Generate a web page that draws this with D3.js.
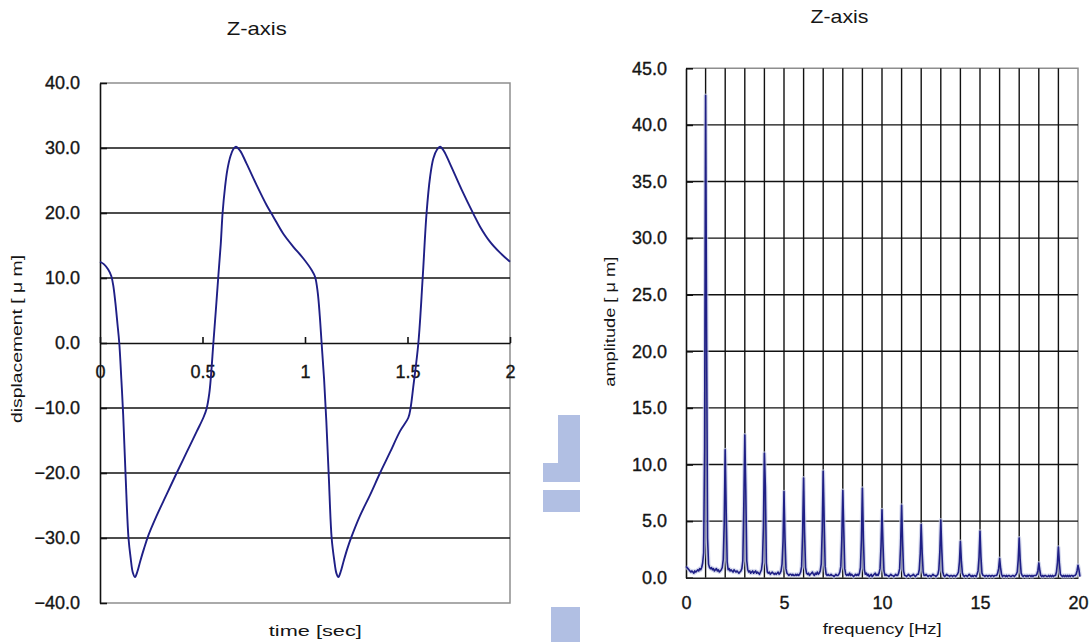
<!DOCTYPE html>
<html>
<head>
<meta charset="utf-8">
<script src="https://cdn.jsdelivr.net/npm/d3@7"></script>
<style>
  body { margin: 0; background: #fff; }
  svg { display: block; }
  text { font-family: "Liberation Sans", Arial, sans-serif; fill: #151515; }
  .tick text { stroke: #151515; stroke-width: 0.35px; }
</style>
</head>
<body>
<svg id="chart" width="1091" height="642"></svg>
<script>
// ---- Z-axis displacement waveform (two revolutions) ----
const timeSec = [
  0.000, 0.020, 0.040, 0.055, 0.065, 0.075, 0.085, 0.094, 0.104, 0.113,
  0.125, 0.139, 0.150, 0.160, 0.171, 0.182, 0.197, 0.215, 0.236, 0.276,
  0.325, 0.374, 0.423, 0.472, 0.504, 0.520, 0.533, 0.541, 0.553, 0.565,
  0.577, 0.589, 0.598, 0.610, 0.621, 0.637, 0.650, 0.663, 0.683, 0.715,
  0.764, 0.813, 0.846, 0.894, 0.943, 0.992, 1.033, 1.049, 1.062, 1.072,
  1.081, 1.093, 1.104, 1.116, 1.130, 1.143, 1.153, 1.163, 1.174, 1.189,
  1.207, 1.227, 1.268, 1.317, 1.366, 1.415, 1.463, 1.504, 1.515, 1.528,
  1.553, 1.574, 1.593, 1.610, 1.626, 1.645, 1.659, 1.678, 1.707, 1.764,
  1.821, 1.854, 1.902, 1.951, 2.000
];
const displacementUm = [
  12.5, 12.1, 11.3, 10.3, 8.8, 6.2, 3.0, 0.0, -5.5, -11.0,
  -20.5, -30.0, -33.2, -35.3, -36.0, -35.2, -33.5, -31.6, -29.6, -26.6,
  -23.3, -20.0, -16.8, -13.6, -11.5, -10.1, -7.8, -5.2, 0.0, 5.0,
  10.2, 15.2, 20.0, 24.0, 26.6, 28.8, 29.8, 30.2, 29.6, 27.6,
  24.3, 21.2, 19.4, 16.8, 14.8, 13.0, 11.2, 10.2, 7.8, 4.2,
  0.0, -5.5, -12.0, -20.5, -30.0, -33.5, -35.4, -36.0, -35.2, -33.5,
  -31.6, -29.8, -26.6, -23.4, -20.0, -16.8, -13.6, -11.5, -10.0, -6.8,
  0.0, 10.0, 20.0, 25.5, 28.4, 29.8, 30.2, 29.5, 27.6, 23.6,
  19.9, 17.9, 15.6, 13.9, 12.5
];
const displacementTicks = [-40, -30, -20, -10, 0, 10, 20, 30, 40];
const timeTicks = [0, 0.5, 1, 1.5, 2];

// ---- Z-axis amplitude spectrum, 0.05 Hz bins from 0 Hz ----
const freqStepHz = 0.05;
const amplitudeUm = [
  1.0, 0.9, 0.8, 0.7, 0.6, 0.5, 0.6, 0.5, 0.4, 0.6, 0.5, 0.6, 0.7, 0.6, 0.8, 0.7, 0.9, 1.3, 2.2, 11.5,
  42.6, 22.0, 3.5, 1.2, 0.9, 0.8, 0.9, 0.7, 0.8, 0.6, 0.7, 0.8, 0.6, 0.7, 0.5, 0.6, 0.7, 0.9, 1.6, 4.8,
  11.3, 6.0, 1.4, 0.7, 0.8, 0.6, 0.7, 0.6, 0.5, 0.7, 0.6, 0.5, 0.6, 0.5, 0.4, 0.5, 0.6, 0.8, 1.5, 6.5,
  12.6, 7.8, 1.5, 0.7, 0.5, 0.6, 0.4, 0.5, 0.6, 0.4, 0.5, 0.6, 0.4, 0.5, 0.4, 0.3, 0.5, 0.7, 1.4, 4.5,
  11.0, 8.0, 1.3, 0.5, 0.4, 0.5, 0.3, 0.4, 0.5, 0.4, 0.3, 0.4, 0.3, 0.4, 0.5, 0.3, 0.4, 0.6, 1.2, 3.2,
  7.6, 3.5, 0.8, 0.4, 0.3, 0.2, 0.3, 0.3, 0.2, 0.3, 0.2, 0.2, 0.3, 0.2, 0.3, 0.2, 0.3, 0.5, 1.0, 4.0,
  8.8, 4.0, 0.9, 0.4, 0.3, 0.4, 0.2, 0.3, 0.4, 0.5, 0.3, 0.2, 0.4, 0.3, 0.5, 0.3, 0.4, 0.6, 1.2, 4.2,
  9.4, 5.0, 1.0, 0.3, 0.2, 0.3, 0.2, 0.2, 0.3, 0.2, 0.2, 0.1, 0.2, 0.3, 0.2, 0.2, 0.3, 0.5, 1.0, 3.5,
  7.7, 4.2, 0.8, 0.3, 0.2, 0.3, 0.2, 0.4, 0.2, 0.3, 0.2, 0.1, 0.2, 0.3, 0.2, 0.3, 0.2, 0.4, 0.9, 3.4,
  7.9, 3.5, 0.7, 0.3, 0.4, 0.2, 0.3, 0.1, 0.2, 0.3, 0.1, 0.2, 0.3, 0.4, 0.2, 0.3, 0.2, 0.4, 0.8, 2.8,
  6.0, 3.0, 0.6, 0.2, 0.3, 0.2, 0.2, 0.1, 0.2, 0.3, 0.2, 0.2, 0.1, 0.2, 0.3, 0.2, 0.2, 0.4, 0.8, 2.9,
  6.4, 3.2, 0.6, 0.2, 0.2, 0.1, 0.2, 0.3, 0.2, 0.1, 0.2, 0.2, 0.3, 0.2, 0.1, 0.2, 0.3, 0.3, 0.7, 2.1,
  4.7, 2.2, 0.5, 0.2, 0.2, 0.3, 0.2, 0.1, 0.2, 0.2, 0.1, 0.2, 0.3, 0.2, 0.2, 0.1, 0.2, 0.3, 0.7, 2.3,
  5.1, 2.5, 0.5, 0.2, 0.1, 0.2, 0.3, 0.2, 0.2, 0.1, 0.2, 0.2, 0.1, 0.2, 0.2, 0.1, 0.2, 0.3, 0.5, 1.4,
  3.2, 1.5, 0.4, 0.2, 0.1, 0.2, 0.2, 0.1, 0.2, 0.3, 0.2, 0.1, 0.2, 0.1, 0.2, 0.2, 0.1, 0.3, 0.6, 1.8,
  4.1, 1.8, 0.4, 0.2, 0.2, 0.1, 0.2, 0.2, 0.1, 0.2, 0.2, 0.1, 0.2, 0.2, 0.1, 0.2, 0.2, 0.2, 0.4, 0.8,
  1.7, 0.9, 0.3, 0.1, 0.2, 0.2, 0.1, 0.2, 0.1, 0.2, 0.2, 0.1, 0.1, 0.2, 0.2, 0.1, 0.2, 0.3, 0.5, 1.6,
  3.5, 1.6, 0.4, 0.2, 0.1, 0.2, 0.2, 0.1, 0.2, 0.1, 0.2, 0.2, 0.1, 0.2, 0.1, 0.2, 0.2, 0.2, 0.3, 0.6,
  1.3, 0.7, 0.2, 0.1, 0.2, 0.1, 0.2, 0.2, 0.1, 0.1, 0.2, 0.1, 0.2, 0.1, 0.2, 0.1, 0.2, 0.2, 0.5, 1.3,
  2.7, 1.3, 0.3, 0.2, 0.1, 0.2, 0.1, 0.2, 0.1, 0.2, 0.1, 0.2, 0.1, 0.2, 0.2, 0.1, 0.2, 0.2, 0.3, 0.6,
  1.1, 0.7, 0.1
];
const amplitudeTicks = [0, 5, 10, 15, 20, 25, 30, 35, 40, 45];
const freqTicks = [0, 5, 10, 15, 20];
const freqGridHz = d3.range(1, 20);

const LINE_COLOR = "#1f1f86";
const HALO_COLOR = "#c3c9e6";
const GRID_COLOR = "#111";
const FRAME_COLOR = "#8e8e8e";

const svg = d3.select("#chart");
const fmt1 = d3.format(".1f");

// light-blue fragments of the printed page background
const bg = svg.append("g").attr("fill", "#adbce2").attr("opacity", 0.95);
bg.append("rect").attr("x", 558).attr("y", 415).attr("width", 22).attr("height", 48);
bg.append("rect").attr("x", 543).attr("y", 463).attr("width", 37).attr("height", 19);
bg.append("rect").attr("x", 543).attr("y", 490).attr("width", 37).attr("height", 22);
bg.append("rect").attr("x", 551).attr("y", 607).attr("width", 29).attr("height", 35);

function styleAxis(sel, strokeColor) {
  sel.selectAll("path,line").attr("stroke", strokeColor).attr("stroke-width", 1.6);
  sel.selectAll("text").attr("font-size", 18).attr("font-family", null).attr("fill", "#151515");
}

// ================= left: displacement vs time =================
{
  const x = d3.scaleLinear([0, 2], [100, 510]);
  const y = d3.scaleLinear([-40, 40], [603, 83]);
  const g = svg.append("g");

  // frame (top, right, bottom)
  g.append("path")
    .attr("d", `M${x(0)},${y(40)}H${x(2)}V${y(-40)}H${x(0)}`)
    .attr("fill", "none").attr("stroke", FRAME_COLOR).attr("stroke-width", 1.5);

  // horizontal gridlines
  g.append("g").selectAll("line")
    .data(displacementTicks.filter(d => d !== 0 && Math.abs(d) !== 40))
    .join("line")
    .attr("x1", x(0)).attr("x2", x(2))
    .attr("y1", d => y(d)).attr("y2", d => y(d))
    .attr("stroke", GRID_COLOR).attr("stroke-width", 1.4);

  // y axis
  const yAxis = g.append("g").attr("transform", `translate(${x(0)},0)`)
    .call(d3.axisLeft(y).tickValues(displacementTicks).tickFormat(fmt1)
      .tickSize(-7).tickSizeOuter(0).tickPadding(20));
  styleAxis(yAxis, GRID_COLOR);

  // x axis drawn along zero
  const xAxis = g.append("g").attr("transform", `translate(0,${y(0)})`)
    .call(d3.axisBottom(x).tickValues(timeTicks).tickFormat(d3.format("~g"))
      .tickSize(-6).tickSizeOuter(0).tickPadding(22));
  styleAxis(xAxis, GRID_COLOR);

  // waveform
  const line = d3.line().x((d, i) => x(timeSec[i])).y(d => y(d))
    .curve(d3.curveCatmullRom.alpha(0.5));
  g.append("path").datum(displacementUm)
    .attr("d", line)
    .attr("fill", "none").attr("stroke", LINE_COLOR).attr("stroke-width", 1.9)
    .attr("stroke-linejoin", "round");

  // titles
  g.append("text").attr("x", 256.7).attr("y", 35).attr("text-anchor", "middle")
    .attr("font-size", 19).attr("textLength", 60).attr("lengthAdjust", "spacingAndGlyphs")
    .text("Z-axis");
  g.append("text").attr("transform", "translate(21.5,339) rotate(-90)")
    .attr("text-anchor", "middle").attr("font-size", 15)
    .attr("textLength", 168).attr("lengthAdjust", "spacingAndGlyphs")
    .text("displacement [ μ m]");
  g.append("text").attr("x", 315.3).attr("y", 636).attr("text-anchor", "middle")
    .attr("font-size", 15).attr("textLength", 93).attr("lengthAdjust", "spacingAndGlyphs")
    .text("time [sec]");
}

// ================= right: amplitude spectrum =================
{
  const x = d3.scaleLinear([0, 20], [686, 1078]);
  const y = d3.scaleLinear([0, 45], [577.7, 68.3]);
  const g = svg.append("g");

  // frame (top, right)
  g.append("path")
    .attr("d", `M${x(0)},${y(45)}H${x(20)}V${y(0)}`)
    .attr("fill", "none").attr("stroke", FRAME_COLOR).attr("stroke-width", 1.5);

  // vertical gridlines every 1 Hz
  g.append("g").selectAll("line").data(freqGridHz).join("line")
    .attr("x1", d => x(d)).attr("x2", d => x(d))
    .attr("y1", y(45)).attr("y2", y(0))
    .attr("stroke", GRID_COLOR).attr("stroke-width", 1.4);

  // horizontal gridlines
  g.append("g").selectAll("line")
    .data(amplitudeTicks.filter(d => d > 0 && d < 45)).join("line")
    .attr("x1", x(0)).attr("x2", x(20))
    .attr("y1", d => y(d)).attr("y2", d => y(d))
    .attr("stroke", GRID_COLOR).attr("stroke-width", 1.4);

  const yAxis = g.append("g").attr("transform", `translate(${x(0)},0)`)
    .call(d3.axisLeft(y).tickValues(amplitudeTicks).tickFormat(fmt1)
      .tickSize(-7).tickSizeOuter(0).tickPadding(19));
  styleAxis(yAxis, GRID_COLOR);

  const xAxis = g.append("g").attr("transform", `translate(0,${y(0)})`)
    .call(d3.axisBottom(x).tickValues(freqTicks).tickFormat(d3.format("d"))
      .tickSize(0).tickSizeOuter(0).tickPadding(19));
  styleAxis(xAxis, "#222");

  // spectrum, with the soft halo seen round the spikes
  const line = d3.line().x((d, i) => x(i * freqStepHz)).y(d => y(d));
  g.append("path").datum(amplitudeUm)
    .attr("d", line)
    .attr("fill", "none").attr("stroke", HALO_COLOR).attr("stroke-width", 4)
    .attr("stroke-linejoin", "round").attr("opacity", 0.7);
  g.append("path").datum(amplitudeUm)
    .attr("d", line)
    .attr("fill", "none").attr("stroke", LINE_COLOR).attr("stroke-width", 1.6)
    .attr("stroke-linejoin", "round");

  g.append("text").attr("x", 839.5).attr("y", 23.3).attr("text-anchor", "middle")
    .attr("font-size", 19).attr("textLength", 58).attr("lengthAdjust", "spacingAndGlyphs")
    .text("Z-axis");
  g.append("text").attr("transform", "translate(614.5,321.7) rotate(-90)")
    .attr("text-anchor", "middle").attr("font-size", 15)
    .attr("textLength", 130).attr("lengthAdjust", "spacingAndGlyphs")
    .text("amplitude [ μ m]");
  g.append("text").attr("x", 882.2).attr("y", 633.5).attr("text-anchor", "middle")
    .attr("font-size", 15).attr("textLength", 119).attr("lengthAdjust", "spacingAndGlyphs")
    .text("frequency [Hz]");
}
</script>
</body>
</html>
